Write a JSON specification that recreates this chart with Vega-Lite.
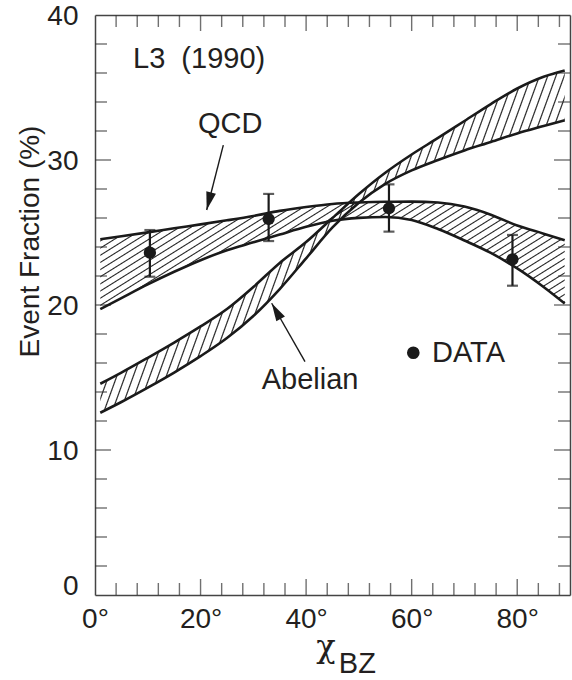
{
  "$schema": "https://vega.github.io/schema/vega-lite/v6.json",
  "width": 475,
  "height": 580,
  "autosize": {"type": "none"},
  "padding": {"left": 95, "top": 15, "right": 2, "bottom": 85},
  "background": "white",
  "config": {"view": {"stroke": null}, "font": "Liberation Sans"},
  "datasets": {
    "qcd": [
      {"x": 1, "hi": 24.54, "lo": 19.72},
      {"x": 5, "hi": 24.74, "lo": 20.48},
      {"x": 10, "hi": 25.01, "lo": 21.42},
      {"x": 15, "hi": 25.29, "lo": 22.29},
      {"x": 20, "hi": 25.56, "lo": 23.09},
      {"x": 25, "hi": 25.84, "lo": 23.78},
      {"x": 30, "hi": 26.14, "lo": 24.32},
      {"x": 35, "hi": 26.49, "lo": 24.86},
      {"x": 40, "hi": 26.76, "lo": 25.39},
      {"x": 45, "hi": 26.97, "lo": 25.81},
      {"x": 50, "hi": 27.07, "lo": 26.01},
      {"x": 55, "hi": 27.12, "lo": 26.07},
      {"x": 60, "hi": 27.13, "lo": 25.86},
      {"x": 65, "hi": 27.07, "lo": 25.24},
      {"x": 70, "hi": 26.79, "lo": 24.45},
      {"x": 75, "hi": 26.23, "lo": 23.59},
      {"x": 80, "hi": 25.48, "lo": 22.52},
      {"x": 85, "hi": 24.92, "lo": 21.24},
      {"x": 89, "hi": 24.46, "lo": 20.10}
    ],
    "abelian": [
      {"x": 1, "hi": 14.57, "lo": 12.57},
      {"x": 5, "hi": 15.34, "lo": 13.31},
      {"x": 10, "hi": 16.36, "lo": 14.30},
      {"x": 15, "hi": 17.41, "lo": 15.34},
      {"x": 20, "hi": 18.52, "lo": 16.47},
      {"x": 25, "hi": 19.72, "lo": 17.72},
      {"x": 30, "hi": 21.24, "lo": 19.24},
      {"x": 35, "hi": 22.90, "lo": 21.10},
      {"x": 40, "hi": 24.34, "lo": 23.22},
      {"x": 45, "hi": 26.00, "lo": 25.35},
      {"x": 50, "hi": 27.65, "lo": 27.05},
      {"x": 55, "hi": 29.12, "lo": 28.35},
      {"x": 60, "hi": 30.38, "lo": 29.28},
      {"x": 65, "hi": 31.52, "lo": 30.00},
      {"x": 70, "hi": 32.69, "lo": 30.66},
      {"x": 75, "hi": 33.86, "lo": 31.24},
      {"x": 80, "hi": 34.93, "lo": 31.83},
      {"x": 85, "hi": 35.74, "lo": 32.34},
      {"x": 89, "hi": 36.17, "lo": 32.74}
    ],
    "measured": [
      {"x": 10.4, "y": 23.61, "lo": 21.95, "hi": 25.17},
      {"x": 32.9, "y": 25.93, "lo": 24.41, "hi": 27.66},
      {"x": 55.7, "y": 26.67, "lo": 25.06, "hi": 28.32},
      {"x": 79.1, "y": 23.15, "lo": 21.33, "hi": 24.83}
    ],
    "legend": [{"x": 60.31, "y": 16.71}],
    "labels": [
      {"x": 7.2, "y": 36.32, "text": "L3\u00a0\u00a0(1990)"},
      {"x": 19.5, "y": 31.84, "text": "QCD"},
      {"x": 31.58, "y": 14.21, "text": "Abelian"},
      {"x": 63.85, "y": 16.09, "text": "DATA"},
      {"x": 46.2, "y": -5.36, "text": "BZ"}
    ],
    "arrows": [
      {"name": "QCD", "x": 24.31, "y": 31.03, "x2": 21.16, "y2": 26.55},
      {"name": "Abelian", "x": 39.79, "y": 16.09, "x2": 33.48, "y2": 20.12}
    ],
    "xminor": [{"v": 4}, {"v": 8}, {"v": 12}, {"v": 16}, {"v": 24}, {"v": 28}, {"v": 32}, {"v": 36}, {"v": 44}, {"v": 48}, {"v": 52}, {"v": 56}, {"v": 64}, {"v": 68}, {"v": 72}, {"v": 76}, {"v": 84}, {"v": 88}],
    "xmajor": [{"v": 20}, {"v": 40}, {"v": 60}, {"v": 80}],
    "yminor": [{"v": 2}, {"v": 4}, {"v": 6}, {"v": 8}, {"v": 12}, {"v": 14}, {"v": 16}, {"v": 18}, {"v": 22}, {"v": 24}, {"v": 26}, {"v": 28}, {"v": 32}, {"v": 34}, {"v": 36}, {"v": 38}],
    "ymajor": [{"v": 10}, {"v": 20}, {"v": 30}]
  },
  "layer": [
    {
      "data": {"name": "qcd"},
      "mark": {
        "type": "area",
        "interpolate": "monotone",
        "fill": {
          "gradient": "linear", "x1": 0, "y1": 0, "x2": 1.2051, "y2": 0.4465,
          "stops": [
            {"offset": 0, "color": "transparent"},
            {"offset": 0.006, "color": "transparent"}, {"offset": 0.009, "color": "#222"}, {"offset": 0.012, "color": "transparent"},
            {"offset": 0.024, "color": "transparent"}, {"offset": 0.027, "color": "#222"}, {"offset": 0.03, "color": "transparent"},
            {"offset": 0.042, "color": "transparent"}, {"offset": 0.045, "color": "#222"}, {"offset": 0.048, "color": "transparent"},
            {"offset": 0.06, "color": "transparent"}, {"offset": 0.063, "color": "#222"}, {"offset": 0.066, "color": "transparent"},
            {"offset": 0.078, "color": "transparent"}, {"offset": 0.081, "color": "#222"}, {"offset": 0.084, "color": "transparent"},
            {"offset": 0.096, "color": "transparent"}, {"offset": 0.099, "color": "#222"}, {"offset": 0.102, "color": "transparent"},
            {"offset": 0.114, "color": "transparent"}, {"offset": 0.117, "color": "#222"}, {"offset": 0.12, "color": "transparent"},
            {"offset": 0.132, "color": "transparent"}, {"offset": 0.135, "color": "#222"}, {"offset": 0.138, "color": "transparent"},
            {"offset": 0.15, "color": "transparent"}, {"offset": 0.153, "color": "#222"}, {"offset": 0.156, "color": "transparent"},
            {"offset": 0.168, "color": "transparent"}, {"offset": 0.171, "color": "#222"}, {"offset": 0.174, "color": "transparent"},
            {"offset": 0.186, "color": "transparent"}, {"offset": 0.189, "color": "#222"}, {"offset": 0.192, "color": "transparent"},
            {"offset": 0.204, "color": "transparent"}, {"offset": 0.207, "color": "#222"}, {"offset": 0.21, "color": "transparent"},
            {"offset": 0.222, "color": "transparent"}, {"offset": 0.225, "color": "#222"}, {"offset": 0.228, "color": "transparent"},
            {"offset": 0.24, "color": "transparent"}, {"offset": 0.243, "color": "#222"}, {"offset": 0.246, "color": "transparent"},
            {"offset": 0.258, "color": "transparent"}, {"offset": 0.261, "color": "#222"}, {"offset": 0.264, "color": "transparent"},
            {"offset": 0.276, "color": "transparent"}, {"offset": 0.279, "color": "#222"}, {"offset": 0.282, "color": "transparent"},
            {"offset": 0.294, "color": "transparent"}, {"offset": 0.297, "color": "#222"}, {"offset": 0.3, "color": "transparent"},
            {"offset": 0.312, "color": "transparent"}, {"offset": 0.315, "color": "#222"}, {"offset": 0.318, "color": "transparent"},
            {"offset": 0.33, "color": "transparent"}, {"offset": 0.333, "color": "#222"}, {"offset": 0.336, "color": "transparent"},
            {"offset": 0.348, "color": "transparent"}, {"offset": 0.351, "color": "#222"}, {"offset": 0.354, "color": "transparent"},
            {"offset": 0.366, "color": "transparent"}, {"offset": 0.369, "color": "#222"}, {"offset": 0.372, "color": "transparent"},
            {"offset": 0.384, "color": "transparent"}, {"offset": 0.387, "color": "#222"}, {"offset": 0.39, "color": "transparent"},
            {"offset": 0.402, "color": "transparent"}, {"offset": 0.405, "color": "#222"}, {"offset": 0.408, "color": "transparent"},
            {"offset": 0.42, "color": "transparent"}, {"offset": 0.423, "color": "#222"}, {"offset": 0.426, "color": "transparent"},
            {"offset": 0.438, "color": "transparent"}, {"offset": 0.441, "color": "#222"}, {"offset": 0.444, "color": "transparent"},
            {"offset": 0.456, "color": "transparent"}, {"offset": 0.459, "color": "#222"}, {"offset": 0.462, "color": "transparent"},
            {"offset": 0.474, "color": "transparent"}, {"offset": 0.477, "color": "#222"}, {"offset": 0.48, "color": "transparent"},
            {"offset": 0.492, "color": "transparent"}, {"offset": 0.495, "color": "#222"}, {"offset": 0.498, "color": "transparent"},
            {"offset": 0.51, "color": "transparent"}, {"offset": 0.513, "color": "#222"}, {"offset": 0.516, "color": "transparent"},
            {"offset": 0.528, "color": "transparent"}, {"offset": 0.531, "color": "#222"}, {"offset": 0.534, "color": "transparent"},
            {"offset": 0.546, "color": "transparent"}, {"offset": 0.549, "color": "#222"}, {"offset": 0.552, "color": "transparent"},
            {"offset": 0.564, "color": "transparent"}, {"offset": 0.567, "color": "#222"}, {"offset": 0.57, "color": "transparent"},
            {"offset": 0.582, "color": "transparent"}, {"offset": 0.585, "color": "#222"}, {"offset": 0.588, "color": "transparent"},
            {"offset": 0.6, "color": "transparent"}, {"offset": 0.603, "color": "#222"}, {"offset": 0.606, "color": "transparent"},
            {"offset": 0.618, "color": "transparent"}, {"offset": 0.621, "color": "#222"}, {"offset": 0.624, "color": "transparent"},
            {"offset": 0.636, "color": "transparent"}, {"offset": 0.639, "color": "#222"}, {"offset": 0.642, "color": "transparent"},
            {"offset": 0.654, "color": "transparent"}, {"offset": 0.657, "color": "#222"}, {"offset": 0.66, "color": "transparent"},
            {"offset": 0.672, "color": "transparent"}, {"offset": 0.675, "color": "#222"}, {"offset": 0.678, "color": "transparent"},
            {"offset": 0.69, "color": "transparent"}, {"offset": 0.693, "color": "#222"}, {"offset": 0.696, "color": "transparent"},
            {"offset": 0.708, "color": "transparent"}, {"offset": 0.711, "color": "#222"}, {"offset": 0.714, "color": "transparent"},
            {"offset": 0.726, "color": "transparent"}, {"offset": 0.729, "color": "#222"}, {"offset": 0.732, "color": "transparent"},
            {"offset": 0.744, "color": "transparent"}, {"offset": 0.747, "color": "#222"}, {"offset": 0.75, "color": "transparent"},
            {"offset": 0.762, "color": "transparent"}, {"offset": 0.765, "color": "#222"}, {"offset": 0.768, "color": "transparent"},
            {"offset": 0.78, "color": "transparent"}, {"offset": 0.783, "color": "#222"}, {"offset": 0.786, "color": "transparent"},
            {"offset": 0.798, "color": "transparent"}, {"offset": 0.801, "color": "#222"}, {"offset": 0.804, "color": "transparent"},
            {"offset": 0.816, "color": "transparent"}, {"offset": 0.819, "color": "#222"}, {"offset": 0.822, "color": "transparent"},
            {"offset": 0.834, "color": "transparent"}, {"offset": 0.837, "color": "#222"}, {"offset": 0.84, "color": "transparent"},
            {"offset": 0.852, "color": "transparent"}, {"offset": 0.855, "color": "#222"}, {"offset": 0.858, "color": "transparent"},
            {"offset": 0.87, "color": "transparent"}, {"offset": 0.873, "color": "#222"}, {"offset": 0.876, "color": "transparent"},
            {"offset": 0.888, "color": "transparent"}, {"offset": 0.891, "color": "#222"}, {"offset": 0.894, "color": "transparent"},
            {"offset": 0.906, "color": "transparent"}, {"offset": 0.909, "color": "#222"}, {"offset": 0.912, "color": "transparent"},
            {"offset": 0.924, "color": "transparent"}, {"offset": 0.927, "color": "#222"}, {"offset": 0.93, "color": "transparent"},
            {"offset": 0.942, "color": "transparent"}, {"offset": 0.945, "color": "#222"}, {"offset": 0.948, "color": "transparent"},
            {"offset": 0.96, "color": "transparent"}, {"offset": 0.963, "color": "#222"}, {"offset": 0.966, "color": "transparent"},
            {"offset": 0.978, "color": "transparent"}, {"offset": 0.981, "color": "#222"}, {"offset": 0.984, "color": "transparent"},
            {"offset": 1, "color": "transparent"}
          ]
        }
      },
      "encoding": {
        "x": {
          "field": "x", "type": "quantitative",
          "scale": {"domain": [0, 90], "nice": false, "zero": false},
          "axis": {
            "orient": "bottom",
            "values": [0, 20, 40, 60, 80],
            "grid": false, "ticks": false,
            "domainColor": "#444", "domainWidth": 1.5,
            "labelExpr": "datum.value + '°'",
            "labelFont": "Liberation Sans", "labelFontSize": 28, "labelColor": "#231f20",
            "labelPadding": 10, "labelFlush": false, "labelOverlap": false,
            "title": "χ", "titleFont": "DejaVu Serif", "titleFontSize": 32, "titleFontWeight": "normal", "titleColor": "#231f20",
            "titleX": 230.5, "titleY": 61, "titleAlign": "center", "titleBaseline": "alphabetic"
          }
        },
        "y": {
          "field": "hi", "type": "quantitative",
          "scale": {"domain": [0, 40], "nice": false, "zero": false},
          "axis": {
            "orient": "left",
            "values": [0, 10, 20, 30, 40],
            "grid": false, "ticks": false,
            "domainColor": "#444", "domainWidth": 1.5,
            "labelOffset": {"condition": {"test": "datum.value === 0", "value": -9}, "value": 1},
            "labelFont": "Liberation Sans", "labelFontSize": 28, "labelColor": "#231f20",
            "labelPadding": 17, "labelFlush": false, "labelOverlap": false,
            "title": "Event Fraction (%)", "titleFont": "Liberation Sans", "titleFontSize": 28, "titleFontWeight": "normal", "titleColor": "#231f20",
            "titleX": -57, "titleY": 226, "titleAngle": -90, "titleAlign": "center", "titleBaseline": "alphabetic"
          }
        },
        "y2": {"field": "lo"}
      }
    },
    {
      "data": {"name": "abelian"},
      "mark": {
        "type": "area",
        "interpolate": "monotone",
        "fill": {
          "gradient": "linear", "x1": 0, "y1": 0, "x2": 1.1831, "y2": 0.3174,
          "stops": [
            {"offset": 0, "color": "transparent"},
            {"offset": 0.005, "color": "transparent"}, {"offset": 0.007, "color": "#222"}, {"offset": 0.009, "color": "transparent"},
            {"offset": 0.019, "color": "transparent"}, {"offset": 0.021, "color": "#222"}, {"offset": 0.023, "color": "transparent"},
            {"offset": 0.033, "color": "transparent"}, {"offset": 0.035, "color": "#222"}, {"offset": 0.037, "color": "transparent"},
            {"offset": 0.047, "color": "transparent"}, {"offset": 0.049, "color": "#222"}, {"offset": 0.051, "color": "transparent"},
            {"offset": 0.061, "color": "transparent"}, {"offset": 0.063, "color": "#222"}, {"offset": 0.065, "color": "transparent"},
            {"offset": 0.075, "color": "transparent"}, {"offset": 0.077, "color": "#222"}, {"offset": 0.079, "color": "transparent"},
            {"offset": 0.089, "color": "transparent"}, {"offset": 0.091, "color": "#222"}, {"offset": 0.093, "color": "transparent"},
            {"offset": 0.103, "color": "transparent"}, {"offset": 0.105, "color": "#222"}, {"offset": 0.107, "color": "transparent"},
            {"offset": 0.117, "color": "transparent"}, {"offset": 0.119, "color": "#222"}, {"offset": 0.121, "color": "transparent"},
            {"offset": 0.131, "color": "transparent"}, {"offset": 0.133, "color": "#222"}, {"offset": 0.135, "color": "transparent"},
            {"offset": 0.145, "color": "transparent"}, {"offset": 0.147, "color": "#222"}, {"offset": 0.149, "color": "transparent"},
            {"offset": 0.159, "color": "transparent"}, {"offset": 0.161, "color": "#222"}, {"offset": 0.163, "color": "transparent"},
            {"offset": 0.173, "color": "transparent"}, {"offset": 0.175, "color": "#222"}, {"offset": 0.177, "color": "transparent"},
            {"offset": 0.187, "color": "transparent"}, {"offset": 0.189, "color": "#222"}, {"offset": 0.191, "color": "transparent"},
            {"offset": 0.201, "color": "transparent"}, {"offset": 0.203, "color": "#222"}, {"offset": 0.205, "color": "transparent"},
            {"offset": 0.215, "color": "transparent"}, {"offset": 0.217, "color": "#222"}, {"offset": 0.219, "color": "transparent"},
            {"offset": 0.229, "color": "transparent"}, {"offset": 0.231, "color": "#222"}, {"offset": 0.233, "color": "transparent"},
            {"offset": 0.243, "color": "transparent"}, {"offset": 0.245, "color": "#222"}, {"offset": 0.247, "color": "transparent"},
            {"offset": 0.257, "color": "transparent"}, {"offset": 0.259, "color": "#222"}, {"offset": 0.261, "color": "transparent"},
            {"offset": 0.271, "color": "transparent"}, {"offset": 0.273, "color": "#222"}, {"offset": 0.275, "color": "transparent"},
            {"offset": 0.285, "color": "transparent"}, {"offset": 0.287, "color": "#222"}, {"offset": 0.289, "color": "transparent"},
            {"offset": 0.299, "color": "transparent"}, {"offset": 0.301, "color": "#222"}, {"offset": 0.303, "color": "transparent"},
            {"offset": 0.313, "color": "transparent"}, {"offset": 0.315, "color": "#222"}, {"offset": 0.317, "color": "transparent"},
            {"offset": 0.327, "color": "transparent"}, {"offset": 0.329, "color": "#222"}, {"offset": 0.331, "color": "transparent"},
            {"offset": 0.341, "color": "transparent"}, {"offset": 0.343, "color": "#222"}, {"offset": 0.345, "color": "transparent"},
            {"offset": 0.355, "color": "transparent"}, {"offset": 0.357, "color": "#222"}, {"offset": 0.359, "color": "transparent"},
            {"offset": 0.369, "color": "transparent"}, {"offset": 0.371, "color": "#222"}, {"offset": 0.373, "color": "transparent"},
            {"offset": 0.383, "color": "transparent"}, {"offset": 0.385, "color": "#222"}, {"offset": 0.387, "color": "transparent"},
            {"offset": 0.397, "color": "transparent"}, {"offset": 0.399, "color": "#222"}, {"offset": 0.401, "color": "transparent"},
            {"offset": 0.411, "color": "transparent"}, {"offset": 0.413, "color": "#222"}, {"offset": 0.415, "color": "transparent"},
            {"offset": 0.425, "color": "transparent"}, {"offset": 0.427, "color": "#222"}, {"offset": 0.429, "color": "transparent"},
            {"offset": 0.439, "color": "transparent"}, {"offset": 0.441, "color": "#222"}, {"offset": 0.443, "color": "transparent"},
            {"offset": 0.453, "color": "transparent"}, {"offset": 0.455, "color": "#222"}, {"offset": 0.457, "color": "transparent"},
            {"offset": 0.467, "color": "transparent"}, {"offset": 0.469, "color": "#222"}, {"offset": 0.471, "color": "transparent"},
            {"offset": 0.481, "color": "transparent"}, {"offset": 0.483, "color": "#222"}, {"offset": 0.485, "color": "transparent"},
            {"offset": 0.495, "color": "transparent"}, {"offset": 0.497, "color": "#222"}, {"offset": 0.499, "color": "transparent"},
            {"offset": 0.509, "color": "transparent"}, {"offset": 0.511, "color": "#222"}, {"offset": 0.513, "color": "transparent"},
            {"offset": 0.523, "color": "transparent"}, {"offset": 0.525, "color": "#222"}, {"offset": 0.527, "color": "transparent"},
            {"offset": 0.537, "color": "transparent"}, {"offset": 0.539, "color": "#222"}, {"offset": 0.541, "color": "transparent"},
            {"offset": 0.551, "color": "transparent"}, {"offset": 0.553, "color": "#222"}, {"offset": 0.555, "color": "transparent"},
            {"offset": 0.565, "color": "transparent"}, {"offset": 0.567, "color": "#222"}, {"offset": 0.569, "color": "transparent"},
            {"offset": 0.579, "color": "transparent"}, {"offset": 0.581, "color": "#222"}, {"offset": 0.583, "color": "transparent"},
            {"offset": 0.593, "color": "transparent"}, {"offset": 0.595, "color": "#222"}, {"offset": 0.597, "color": "transparent"},
            {"offset": 0.607, "color": "transparent"}, {"offset": 0.609, "color": "#222"}, {"offset": 0.611, "color": "transparent"},
            {"offset": 0.621, "color": "transparent"}, {"offset": 0.623, "color": "#222"}, {"offset": 0.625, "color": "transparent"},
            {"offset": 0.635, "color": "transparent"}, {"offset": 0.637, "color": "#222"}, {"offset": 0.639, "color": "transparent"},
            {"offset": 0.649, "color": "transparent"}, {"offset": 0.651, "color": "#222"}, {"offset": 0.653, "color": "transparent"},
            {"offset": 0.663, "color": "transparent"}, {"offset": 0.665, "color": "#222"}, {"offset": 0.667, "color": "transparent"},
            {"offset": 0.677, "color": "transparent"}, {"offset": 0.679, "color": "#222"}, {"offset": 0.681, "color": "transparent"},
            {"offset": 0.691, "color": "transparent"}, {"offset": 0.693, "color": "#222"}, {"offset": 0.695, "color": "transparent"},
            {"offset": 0.705, "color": "transparent"}, {"offset": 0.707, "color": "#222"}, {"offset": 0.709, "color": "transparent"},
            {"offset": 0.719, "color": "transparent"}, {"offset": 0.721, "color": "#222"}, {"offset": 0.723, "color": "transparent"},
            {"offset": 0.733, "color": "transparent"}, {"offset": 0.735, "color": "#222"}, {"offset": 0.737, "color": "transparent"},
            {"offset": 0.747, "color": "transparent"}, {"offset": 0.749, "color": "#222"}, {"offset": 0.751, "color": "transparent"},
            {"offset": 0.761, "color": "transparent"}, {"offset": 0.763, "color": "#222"}, {"offset": 0.765, "color": "transparent"},
            {"offset": 0.775, "color": "transparent"}, {"offset": 0.777, "color": "#222"}, {"offset": 0.779, "color": "transparent"},
            {"offset": 0.789, "color": "transparent"}, {"offset": 0.791, "color": "#222"}, {"offset": 0.793, "color": "transparent"},
            {"offset": 0.803, "color": "transparent"}, {"offset": 0.805, "color": "#222"}, {"offset": 0.807, "color": "transparent"},
            {"offset": 0.817, "color": "transparent"}, {"offset": 0.819, "color": "#222"}, {"offset": 0.821, "color": "transparent"},
            {"offset": 0.831, "color": "transparent"}, {"offset": 0.833, "color": "#222"}, {"offset": 0.835, "color": "transparent"},
            {"offset": 0.845, "color": "transparent"}, {"offset": 0.847, "color": "#222"}, {"offset": 0.849, "color": "transparent"},
            {"offset": 0.859, "color": "transparent"}, {"offset": 0.861, "color": "#222"}, {"offset": 0.863, "color": "transparent"},
            {"offset": 0.873, "color": "transparent"}, {"offset": 0.875, "color": "#222"}, {"offset": 0.877, "color": "transparent"},
            {"offset": 0.887, "color": "transparent"}, {"offset": 0.889, "color": "#222"}, {"offset": 0.891, "color": "transparent"},
            {"offset": 0.901, "color": "transparent"}, {"offset": 0.903, "color": "#222"}, {"offset": 0.905, "color": "transparent"},
            {"offset": 0.915, "color": "transparent"}, {"offset": 0.917, "color": "#222"}, {"offset": 0.919, "color": "transparent"},
            {"offset": 0.929, "color": "transparent"}, {"offset": 0.931, "color": "#222"}, {"offset": 0.933, "color": "transparent"},
            {"offset": 0.943, "color": "transparent"}, {"offset": 0.945, "color": "#222"}, {"offset": 0.947, "color": "transparent"},
            {"offset": 0.957, "color": "transparent"}, {"offset": 0.959, "color": "#222"}, {"offset": 0.961, "color": "transparent"},
            {"offset": 0.971, "color": "transparent"}, {"offset": 0.973, "color": "#222"}, {"offset": 0.975, "color": "transparent"},
            {"offset": 0.985, "color": "transparent"}, {"offset": 0.987, "color": "#222"}, {"offset": 0.989, "color": "transparent"},
            {"offset": 1, "color": "transparent"}
          ]
        }
      },
      "encoding": {
        "x": {
          "field": "x", "type": "quantitative",
          "scale": {"domain": [0, 90], "nice": false, "zero": false},
          "axis": {"orient": "top", "values": [0], "grid": false, "ticks": false, "labels": false, "title": null, "domainColor": "#444", "domainWidth": 1.5}
        },
        "y": {
          "field": "hi", "type": "quantitative",
          "scale": {"domain": [0, 40], "nice": false, "zero": false},
          "axis": {"orient": "right", "values": [0], "grid": false, "ticks": false, "labels": false, "title": null, "domainColor": "#444", "domainWidth": 1.5}
        },
        "y2": {"field": "lo"}
      }
    },
    {
      "data": {"name": "xminor"},
      "mark": {"type": "tick", "orient": "vertical", "color": "#333", "size": 12, "thickness": 1.4, "yOffset": -6},
      "encoding": {
        "x": {"field": "v", "type": "quantitative", "scale": {"domain": [0, 90], "nice": false, "zero": false}, "axis": null},
        "y": {"datum": 0, "type": "quantitative", "scale": {"domain": [0, 40], "nice": false, "zero": false}, "axis": null}
      }
    },
    {
      "data": {"name": "xminor"},
      "mark": {"type": "tick", "orient": "vertical", "color": "#333", "size": 12, "thickness": 1.4, "yOffset": 6},
      "encoding": {
        "x": {"field": "v", "type": "quantitative", "scale": {"domain": [0, 90], "nice": false, "zero": false}, "axis": null},
        "y": {"datum": 40, "type": "quantitative", "scale": {"domain": [0, 40], "nice": false, "zero": false}, "axis": null}
      }
    },
    {
      "data": {"name": "xmajor"},
      "mark": {"type": "tick", "orient": "vertical", "color": "#333", "size": 16, "thickness": 1.4, "yOffset": -8},
      "encoding": {
        "x": {"field": "v", "type": "quantitative", "scale": {"domain": [0, 90], "nice": false, "zero": false}, "axis": null},
        "y": {"datum": 0, "type": "quantitative", "scale": {"domain": [0, 40], "nice": false, "zero": false}, "axis": null}
      }
    },
    {
      "data": {"name": "xmajor"},
      "mark": {"type": "tick", "orient": "vertical", "color": "#333", "size": 16, "thickness": 1.4, "yOffset": 8},
      "encoding": {
        "x": {"field": "v", "type": "quantitative", "scale": {"domain": [0, 90], "nice": false, "zero": false}, "axis": null},
        "y": {"datum": 40, "type": "quantitative", "scale": {"domain": [0, 40], "nice": false, "zero": false}, "axis": null}
      }
    },
    {
      "data": {"name": "yminor"},
      "mark": {"type": "tick", "orient": "horizontal", "color": "#333", "size": 12, "thickness": 1.4, "xOffset": 6},
      "encoding": {
        "y": {"field": "v", "type": "quantitative", "scale": {"domain": [0, 40], "nice": false, "zero": false}, "axis": null},
        "x": {"datum": 0, "type": "quantitative", "scale": {"domain": [0, 90], "nice": false, "zero": false}, "axis": null}
      }
    },
    {
      "data": {"name": "yminor"},
      "mark": {"type": "tick", "orient": "horizontal", "color": "#333", "size": 12, "thickness": 1.4, "xOffset": -6},
      "encoding": {
        "y": {"field": "v", "type": "quantitative", "scale": {"domain": [0, 40], "nice": false, "zero": false}, "axis": null},
        "x": {"datum": 90, "type": "quantitative", "scale": {"domain": [0, 90], "nice": false, "zero": false}, "axis": null}
      }
    },
    {
      "data": {"name": "ymajor"},
      "mark": {"type": "tick", "orient": "horizontal", "color": "#333", "size": 16, "thickness": 1.4, "xOffset": 8},
      "encoding": {
        "y": {"field": "v", "type": "quantitative", "scale": {"domain": [0, 40], "nice": false, "zero": false}, "axis": null},
        "x": {"datum": 0, "type": "quantitative", "scale": {"domain": [0, 90], "nice": false, "zero": false}, "axis": null}
      }
    },
    {
      "data": {"name": "ymajor"},
      "mark": {"type": "tick", "orient": "horizontal", "color": "#333", "size": 16, "thickness": 1.4, "xOffset": -8},
      "encoding": {
        "y": {"field": "v", "type": "quantitative", "scale": {"domain": [0, 40], "nice": false, "zero": false}, "axis": null},
        "x": {"datum": 90, "type": "quantitative", "scale": {"domain": [0, 90], "nice": false, "zero": false}, "axis": null}
      }
    },
    {
      "data": {"name": "qcd"},
      "mark": {"type": "line", "interpolate": "monotone", "color": "#1a1a1a", "strokeWidth": 2.6},
      "encoding": {
        "x": {"field": "x", "type": "quantitative", "scale": {"domain": [0, 90], "nice": false, "zero": false}, "axis": null},
        "y": {"field": "hi", "type": "quantitative", "scale": {"domain": [0, 40], "nice": false, "zero": false}, "axis": null}
      }
    },
    {
      "data": {"name": "qcd"},
      "mark": {"type": "line", "interpolate": "monotone", "color": "#1a1a1a", "strokeWidth": 2.6},
      "encoding": {
        "x": {"field": "x", "type": "quantitative", "scale": {"domain": [0, 90], "nice": false, "zero": false}, "axis": null},
        "y": {"field": "lo", "type": "quantitative", "scale": {"domain": [0, 40], "nice": false, "zero": false}, "axis": null}
      }
    },
    {
      "data": {"name": "abelian"},
      "mark": {"type": "line", "interpolate": "monotone", "color": "#1a1a1a", "strokeWidth": 2.6},
      "encoding": {
        "x": {"field": "x", "type": "quantitative", "scale": {"domain": [0, 90], "nice": false, "zero": false}, "axis": null},
        "y": {"field": "hi", "type": "quantitative", "scale": {"domain": [0, 40], "nice": false, "zero": false}, "axis": null}
      }
    },
    {
      "data": {"name": "abelian"},
      "mark": {"type": "line", "interpolate": "monotone", "color": "#1a1a1a", "strokeWidth": 2.6},
      "encoding": {
        "x": {"field": "x", "type": "quantitative", "scale": {"domain": [0, 90], "nice": false, "zero": false}, "axis": null},
        "y": {"field": "lo", "type": "quantitative", "scale": {"domain": [0, 40], "nice": false, "zero": false}, "axis": null}
      }
    },
    {
      "data": {"name": "measured"},
      "mark": {"type": "rule", "color": "#1a1a1a", "strokeWidth": 2.2},
      "encoding": {
        "x": {"field": "x", "type": "quantitative", "scale": {"domain": [0, 90], "nice": false, "zero": false}, "axis": null},
        "y": {"field": "lo", "type": "quantitative", "scale": {"domain": [0, 40], "nice": false, "zero": false}, "axis": null},
        "y2": {"field": "hi"}
      }
    },
    {
      "data": {"name": "measured"},
      "mark": {"type": "tick", "orient": "horizontal", "color": "#1a1a1a", "size": 11, "thickness": 2.2},
      "encoding": {
        "x": {"field": "x", "type": "quantitative", "scale": {"domain": [0, 90], "nice": false, "zero": false}, "axis": null},
        "y": {"field": "lo", "type": "quantitative", "scale": {"domain": [0, 40], "nice": false, "zero": false}, "axis": null}
      }
    },
    {
      "data": {"name": "measured"},
      "mark": {"type": "tick", "orient": "horizontal", "color": "#1a1a1a", "size": 11, "thickness": 2.2},
      "encoding": {
        "x": {"field": "x", "type": "quantitative", "scale": {"domain": [0, 90], "nice": false, "zero": false}, "axis": null},
        "y": {"field": "hi", "type": "quantitative", "scale": {"domain": [0, 40], "nice": false, "zero": false}, "axis": null}
      }
    },
    {
      "data": {"name": "measured"},
      "mark": {"type": "point", "shape": "circle", "filled": true, "color": "#1a1a1a", "opacity": 1, "size": 150},
      "encoding": {
        "x": {"field": "x", "type": "quantitative", "scale": {"domain": [0, 90], "nice": false, "zero": false}, "axis": null},
        "y": {"field": "y", "type": "quantitative", "scale": {"domain": [0, 40], "nice": false, "zero": false}, "axis": null}
      }
    },
    {
      "data": {"name": "legend"},
      "mark": {"type": "point", "shape": "circle", "filled": true, "color": "#1a1a1a", "opacity": 1, "size": 160},
      "encoding": {
        "x": {"field": "x", "type": "quantitative", "scale": {"domain": [0, 90], "nice": false, "zero": false}, "axis": null},
        "y": {"field": "y", "type": "quantitative", "scale": {"domain": [0, 40], "nice": false, "zero": false}, "axis": null}
      }
    },
    {
      "data": {"name": "arrows"},
      "mark": {"type": "rule", "color": "#1a1a1a", "strokeWidth": 1.4},
      "encoding": {
        "x": {"field": "x", "type": "quantitative", "scale": {"domain": [0, 90], "nice": false, "zero": false}, "axis": null},
        "y": {"field": "y", "type": "quantitative", "scale": {"domain": [0, 40], "nice": false, "zero": false}, "axis": null},
        "x2": {"field": "x2"},
        "y2": {"field": "y2"}
      }
    },
    {
      "data": {"name": "arrows"},
      "transform": [{"filter": "datum.name === 'QCD'"}],
      "mark": {"type": "point", "shape": "M0,0L0.55,2L-0.55,2Z", "filled": true, "color": "#1a1a1a", "opacity": 1, "size": 324, "angle": 194.3},
      "encoding": {
        "x": {"field": "x2", "type": "quantitative", "scale": {"domain": [0, 90], "nice": false, "zero": false}, "axis": null},
        "y": {"field": "y2", "type": "quantitative", "scale": {"domain": [0, 40], "nice": false, "zero": false}, "axis": null}
      }
    },
    {
      "data": {"name": "arrows"},
      "transform": [{"filter": "datum.name === 'Abelian'"}],
      "mark": {"type": "point", "shape": "M0,0L0.55,2L-0.55,2Z", "filled": true, "color": "#1a1a1a", "opacity": 1, "size": 324, "angle": 330.3},
      "encoding": {
        "x": {"field": "x2", "type": "quantitative", "scale": {"domain": [0, 90], "nice": false, "zero": false}, "axis": null},
        "y": {"field": "y2", "type": "quantitative", "scale": {"domain": [0, 40], "nice": false, "zero": false}, "axis": null}
      }
    },
    {
      "data": {"name": "labels"},
      "mark": {"type": "text", "align": "left", "baseline": "alphabetic", "font": "Liberation Sans", "fontSize": 29, "color": "#231f20"},
      "encoding": {
        "x": {"field": "x", "type": "quantitative", "scale": {"domain": [0, 90], "nice": false, "zero": false}, "axis": null},
        "y": {"field": "y", "type": "quantitative", "scale": {"domain": [0, 40], "nice": false, "zero": false}, "axis": null},
        "text": {"field": "text"}
      }
    }
  ],
  "resolve": {"axis": {"x": "independent", "y": "independent"}}
}
